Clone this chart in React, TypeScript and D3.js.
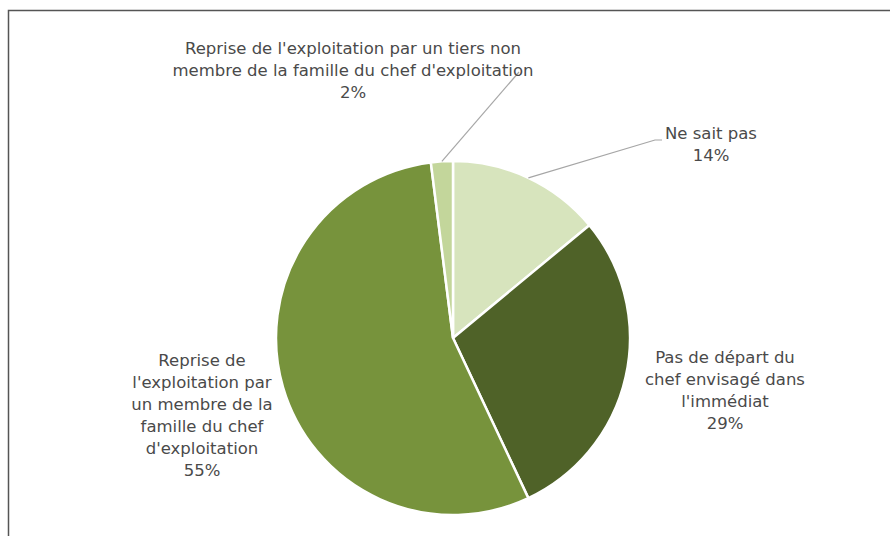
import React from "react";
import * as d3 from "d3";

// slices, clockwise from 12 o'clock
const categories = [
  "Ne sait pas",
  "Pas de départ du chef envisagé dans l'immédiat",
  "Reprise de l'exploitation par un membre de la famille du chef d'exploitation",
  "Reprise de l'exploitation par un tiers non membre de la famille du chef d'exploitation",
];
const values = [14, 29, 55, 2];
const colors = ["#D7E4BD", "#4F6228", "#77933C", "#C3D69B"];

// how each label is wrapped in the picture
const labelLines = [
  ["Ne sait pas"],
  ["Pas de départ du", "chef envisagé dans", "l'immédiat"],
  ["Reprise de", "l'exploitation par", "un membre de la", "famille du chef", "d'exploitation"],
  ["Reprise de l'exploitation par un tiers non", "membre de la famille du chef d'exploitation"],
];

const width = 890;
const height = 536;
const cx = 453;
const cy = 338;
const radius = 177;
const lineH = 22;

// label anchor (centre x, first line baseline y) + optional leader end
const labelPos = [
  { x: 711, y: 139, leader: [[655, 140], [662, 140]] },
  { x: 725, y: 363, leader: null },
  { x: 202, y: 366, leader: null },
  { x: 353, y: 54, leader: [[519, 72]] },
];

const App = () => {
  const pie = d3
    .pie<number>()
    .value((d) => d)
    .sort(null);
  const arc = d3.arc<d3.PieArcDatum<number>>().innerRadius(0).outerRadius(radius);
  const arcs = pie(values);
  const fmt = (d: d3.PieArcDatum<number>) =>
    d3.format(".0%")(d.value / d3.sum(values));

  return (
    <svg
      width={width}
      height={height}
      style={{ position: "absolute", left: 0, top: 0, background: "#fff" }}
      fontFamily="DejaVu Sans, sans-serif"
    >
      <rect x={8.5} y={10.5} width={900} height={600} fill="none" stroke="#555" strokeWidth={1.5} />
      <g transform={`translate(${cx},${cy})`}>
        {arcs.map((d, i) => (
          <path key={i} d={arc(d) || ""} fill={colors[i]} stroke="#fff" strokeWidth={2.5} />
        ))}
      </g>
      {arcs.map((d, i) => {
        const p = labelPos[i];
        if (!p.leader) return null;
        const mid = (d.startAngle + d.endAngle) / 2;
        const sx = cx + Math.sin(mid) * radius;
        const sy = cy - Math.cos(mid) * radius;
        const pts = [[sx, sy], ...p.leader];
        return (
          <polyline
            key={"l" + i}
            points={pts.map((q) => q.join(",")).join(" ")}
            fill="none"
            stroke="#A6A6A6"
            strokeWidth={1.2}
          />
        );
      })}
      {arcs.map((d, i) => {
        const p = labelPos[i];
        const lines = [...labelLines[i], fmt(d)];
        return (
          <text
            key={"t" + i}
            x={p.x}
            y={p.y}
            textAnchor="middle"
            fontSize={16.5}
            fill="#4a4a4a"
          >
            {lines.map((l, j) => (
              <tspan key={j} x={p.x} y={p.y + j * lineH}>
                {l}
              </tspan>
            ))}
          </text>
        );
      })}
    </svg>
  );
};

export default App;
